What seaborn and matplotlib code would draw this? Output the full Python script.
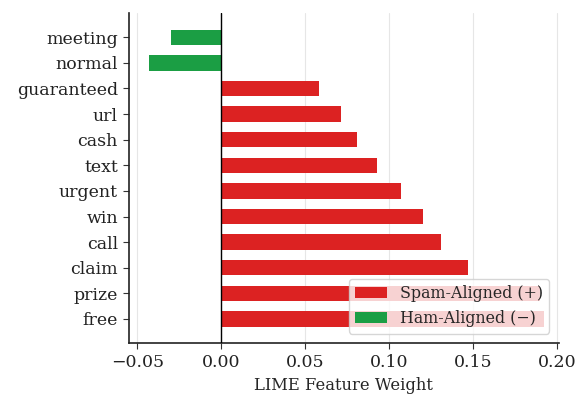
import matplotlib
matplotlib.use("Agg")
import matplotlib.pyplot as plt
import seaborn as sns
import pandas as pd

# LIME weights per token, listed top to bottom as drawn
features = ["meeting", "normal", "guaranteed", "url", "cash", "text",
            "urgent", "win", "call", "claim", "prize", "free"]
weights = [-0.030, -0.043, 0.058, 0.071, 0.081, 0.093,
           0.107, 0.120, 0.131, 0.147, 0.190, 0.192]

spam_label = "Spam-Aligned (+)"
ham_label = "Ham-Aligned (\u2212)"
colors = {spam_label: "#dc2222", ham_label: "#1b9e44"}

df = pd.DataFrame({
    "feature": features,
    "weight": weights,
    "direction": [spam_label if w > 0 else ham_label for w in weights],
})

sns.set_style("ticks")
plt.rcParams["font.family"] = ["DejaVu Serif"]

fig = plt.figure(figsize=(5.76, 3.98), dpi=100)
ax = fig.add_axes([0.224, 0.138, 0.746, 0.829])

sns.barplot(data=df, x="weight", y="feature", hue="direction",
            hue_order=[spam_label, ham_label], palette=colors,
            order=features, orient="h", dodge=False, width=0.6,
            saturation=1, linewidth=0, ax=ax)

ax.axvline(0, color="black", linewidth=1.0, zorder=3)
ax.set_xlim(-0.055, 0.201)
ax.set_ylim(len(features) - 1 + 0.94, -0.94)
ax.set_xticks([-0.05, 0.0, 0.05, 0.10, 0.15, 0.20])
ax.grid(axis="x", color="#e6e6e6", linewidth=0.8)
ax.set_axisbelow(True)
ax.set_xlabel("LIME Feature Weight", fontsize=11.8, labelpad=4)
ax.set_ylabel("")
ax.tick_params(axis="both", labelsize=12.5, colors="#333333", length=4.5)
for lab in ax.get_yticklabels() + ax.get_xticklabels():
    lab.set_color("#222222")
sns.despine(ax=ax)
for s in ("left", "bottom"):
    ax.spines[s].set_linewidth(1.2)
    ax.spines[s].set_color("#222222")

ax.legend(loc="lower right", fontsize=11.4, framealpha=0.8, title=None,
          borderaxespad=0.6)

fig.savefig("out.png", dpi=100)
